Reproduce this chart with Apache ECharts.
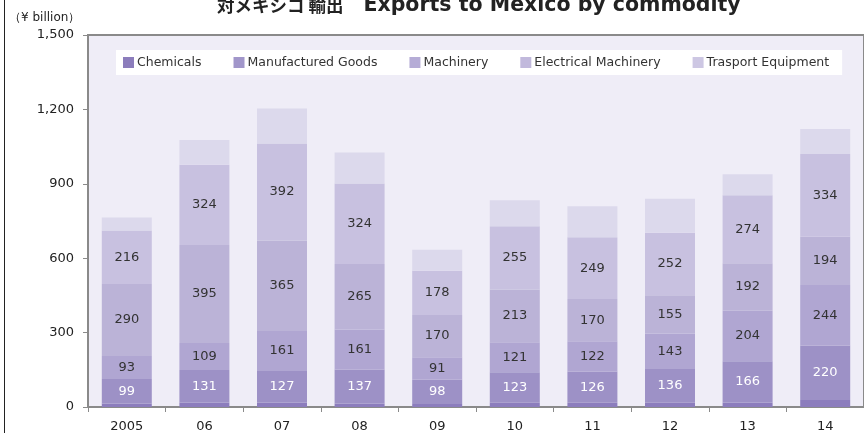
<!DOCTYPE html>
<html>
<head>
<meta charset="utf-8">
<script src="https://cdn.jsdelivr.net/npm/echarts@6/dist/echarts.min.js"></script>
<style>
  html, body { margin: 0; padding: 0; background: #fff; }
  #chart { width: 864px; height: 433px; }
</style>
</head>
<body>
<div id="chart"></div>
<script>
// 年度
const years = ['2005', '06', '07', '08', '09', '10', '11', '12', '13', '14']
// 各品目 (¥ billion)
const chemicals = [14, 18, 18, 14, 12, 17, 17, 17, 18, 28]
const manufacturedGoods = [99, 131, 127, 137, 98, 123, 126, 136, 166, 220]
const machinery = [93, 109, 161, 161, 91, 121, 122, 143, 204, 244]
const electricalMachinery = [290, 395, 365, 265, 170, 213, 170, 155, 192, 194]
const transportEquipment = [216, 324, 392, 324, 178, 255, 249, 252, 274, 334]
const others = [52, 100, 141, 125, 85, 105, 125, 137, 85, 101]
const yTicks = [0, 300, 600, 900, 1200, 1500]

const FONT = 'DejaVu Sans'

const chart = echarts.init(document.getElementById('chart'))

const mkSeries = (name, data, color, labelColor) => ({
  name, type: 'bar', stack: 'total', barWidth: 50,
  itemStyle: { color },
  label: labelColor ? {
    show: true, position: 'inside', color: labelColor,
    fontFamily: FONT, fontSize: 13
  } : { show: false },
  emphasis: { disabled: true },
  data
})

const option = {
  backgroundColor: '#fff',
  animation: false,
  title: {
    text: '{jp|対メキシコ 輸出}{gap|}{en|Exports to Mexico by commodity}',
    left: 212, top: -10,
    textStyle: {
      rich: {
        jp: { fontFamily: 'Noto Sans CJK JP', fontSize: 17.5, fontWeight: 'bold', color: '#222' },
        gap: { width: 20 },
        en: { fontFamily: FONT, fontSize: 20.5, fontWeight: 'bold', color: '#222' }
      }
    }
  },
  legend: {
    left: 116, top: 50,
    backgroundColor: '#fff',
    padding: [6, 13, 6, 7],
    icon: 'rect',
    itemWidth: 11, itemHeight: 11, itemGap: 32,
    textStyle: { fontFamily: FONT, fontSize: 12.5, color: '#333', padding: [0, 0, 0, -2] },
    data: [
      { name: 'Chemicals', itemStyle: { color: '#8c7dbc' } },
      { name: 'Manufactured Goods', itemStyle: { color: '#a196ca' } },
      { name: 'Machinery', itemStyle: { color: '#b5acd6' } },
      { name: 'Electrical Machinery', itemStyle: { color: '#c1b9dc' } },
      { name: 'Trasport Equipment', itemStyle: { color: '#cdc7e3' } }
    ]
  },
  grid: {
    left: 88, top: 35, width: 780, height: 372,
    show: true, backgroundColor: '#efedf7', borderColor: '#8a8a8a', borderWidth: 2
  },
  xAxis: {
    type: 'category', data: years,
    axisLine: { lineStyle: { color: '#8a8a8a', width: 2 } },
    axisTick: { show: true, length: 5, lineStyle: { color: '#8a8a8a' } },
    axisLabel: { fontFamily: FONT, fontSize: 13, color: '#222', margin: 13 }
  },
  yAxis: {
    type: 'value', min: yTicks[0], max: yTicks[yTicks.length - 1], interval: 300,
    axisLine: { show: true, lineStyle: { color: '#8a8a8a', width: 2 } },
    axisTick: { show: true, length: 5, lineStyle: { color: '#8a8a8a' } },
    splitLine: { show: false },
    axisLabel: {
      fontFamily: FONT, fontSize: 13, color: '#222', margin: 14,
      formatter: v => v.toLocaleString('en-US')
    }
  },
  graphic: [
    { type: 'text', left: 9, top: 12,
      style: { text: '（¥ billion）', fontFamily: FONT, fontSize: 12, fill: '#222' } },
    { type: 'line', shape: { x1: 4.5, y1: 0, x2: 4.5, y2: 433 },
      style: { stroke: '#222', lineWidth: 1 } }
  ],
  series: [
    mkSeries('Chemicals', chemicals, '#8c7dbd', null),
    mkSeries('Manufactured Goods', manufacturedGoods, '#9d91c6', '#fff'),
    mkSeries('Machinery', machinery, '#b0a6d2', '#333'),
    mkSeries('Electrical Machinery', electricalMachinery, '#bbb3d7', '#333'),
    mkSeries('Trasport Equipment', transportEquipment, '#c8c1e0', '#333'),
    mkSeries('Others', others, '#dcd9ec', null)
  ]
}

chart.setOption(option)
</script>
</body>
</html>
